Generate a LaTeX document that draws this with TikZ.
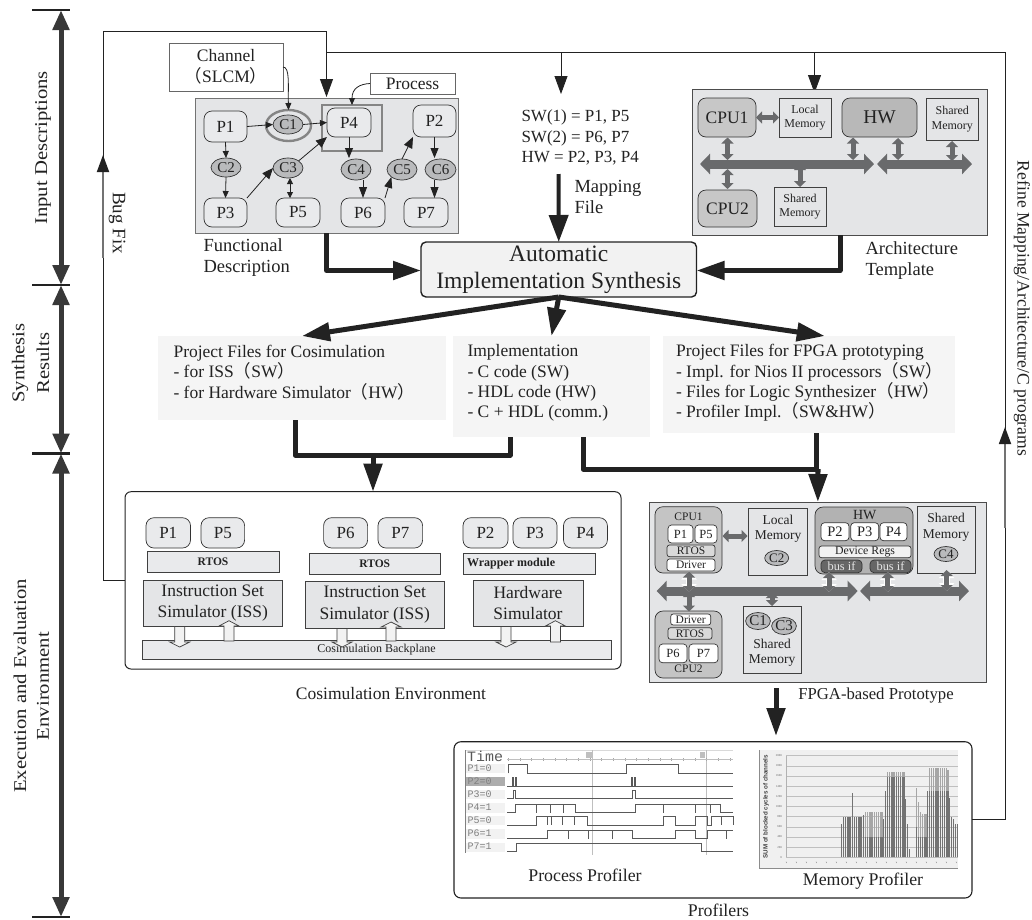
\documentclass[tikz,border=0pt]{standalone}
\usepackage{fontspec}
\usepackage{graphicx}
\setmainfont{Liberation Serif}
\setsansfont{Liberation Sans}
\setmonofont{Liberation Mono}
\newfontfamily\cjk{Noto Sans CJK SC}
\usetikzlibrary{arrows.meta,shapes.geometric,calc}
\definecolor{ink}{HTML}{222222}
\definecolor{panel}{HTML}{E4E5E7}
\definecolor{chipfill}{HTML}{E9EAEC}
\definecolor{cg}{HTML}{B9BABC}
\definecolor{busg}{HTML}{696A6C}
\definecolor{softb}{HTML}{F5F5F5}
\newcommand\fs[2]{\fontsize{#1}{#2}\selectfont}
\newcommand\lp{{\cjk（}}
\newcommand\rp{{\cjk）}}
\newcommand\nbx[7]{%
  \pgfmathsetmacro\cxx{(#3+#5)/2}\pgfmathsetmacro\cyy{(#4+#6)/2}%
  \pgfmathsetmacro\ww{#5-#3}\pgfmathsetmacro\hhh{#6-#4}%
  \node[#1,minimum width=\ww pt,minimum height=\hhh pt,inner sep=0pt,outer sep=0pt,align=center] (#2) at (\cxx,\cyy) {#7};}
\newcommand\holl[4]{\draw[hollow] (#1-5,#2) -- (#1-5,#3) -- (#1-10,#3) -- (#1,#4) -- (#1+10,#3) -- (#1+5,#3) -- (#1+5,#2) -- cycle;}
\tikzset{
  every node/.style={text=ink},
  panelbox/.style={draw=black!55,line width=0.9pt,fill=panel},
  chip/.style={draw=black!80,line width=0.7pt,rounded corners=8pt,fill=white,font=\fs{17}{20}},
  chipg/.style={chip,fill=chipfill},
  chan/.style={ellipse,draw=black!80,line width=0.7pt,fill=cg,font=\fs{15}{18}},
  plainb/.style={draw=black!75,line width=0.7pt,fill=#1},
  plainb/.default=panel,
  softbox/.style={fill=softb},
  lbl/.style={font=\fs{18.5}{21},align=left},
  thinl/.style={draw=ink,line width=0.8pt},
  tinya/.style={draw=ink,line width=0.8pt,-{Triangle[length=7pt,width=6pt]}},
  tinyb/.style={draw=ink,line width=0.8pt,{Triangle[length=6pt,width=6pt]}-{Triangle[length=6pt,width=6pt]}},
  drop/.style={draw=ink,line width=0.8pt,-{Triangle[length=18pt,width=13pt]}},
  heavy/.style={draw=ink,line width=5pt,line join=round},
  heavya/.style={heavy,-{Triangle[length=28pt,width=18pt]}},
  scalebar/.style={draw=ink!90,line width=5pt,{Triangle[length=20pt,width=16pt]}-{Triangle[length=20pt,width=16pt]}},
  tickm/.style={draw=ink,line width=2.4pt},
  rise/.style={draw=black!55,line width=1.8pt,-{Triangle[length=17pt,width=12pt,color=ink]}},
  busbar/.style={draw=busg,line width=9pt,{Triangle[length=10pt,width=20pt]}-{Triangle[length=10pt,width=20pt]}},
  stub/.style={draw=busg,line width=5pt,{Triangle[length=6pt,width=12pt]}-{Triangle[length=6pt,width=12pt]}},
  halo/.style={draw=white,line width=6.5pt,{Triangle[length=8pt,width=15pt]}-{Triangle[length=8pt,width=15pt]}},
  hollow/.style={draw=black!75,line width=0.7pt,fill=white!95!black},
  wavel/.style={draw=black!65,line width=0.9pt},
  gridl/.style={draw=black!25,line width=0.5pt},
  sidet/.style={font=\fs{18}{21},rotate=90,align=center},
}
\begin{document}
\begin{tikzpicture}[x=1pt,y=-1pt]
\useasboundingbox (0,0) rectangle (1032,919);
\fill[white] (0,0) rectangle (1032,919);

% ---------- left scale
\coordinate (t0) at (61,10);\coordinate (t1) at (61,285);\coordinate (t2) at (61,453.5);\coordinate (t3) at (61,917);
\foreach \tk in {t0,t1,t2,t3}{\draw[tickm] ($(\tk)+(-29,0)$) -- ($(\tk)+(9,0)$);}
\draw[scalebar] (t0) -- (t1);
\draw[scalebar] (t1) -- (t2);
\draw[scalebar] (t2) -- (t3);
\node[sidet] (sInput) at (43,148) {\scalebox{1.15}[1]{Input Descriptions}};
\node[sidet] (sSynA) at (20,363) {\scalebox{1.15}[1]{Synthesis}};
\node[sidet] (sSynB) at (43,363) {\scalebox{1.15}[1]{Results}};
\node[sidet] (sExeA) at (20,686) {\scalebox{1.15}[1]{Execution and Evaluation}};
\node[sidet] (sExeB) at (43,686) {\scalebox{1.15}[1]{Environment}};

% ---------- functional description
\nbx{panelbox}{func}{195}{98}{458}{233}{}
\nbx{draw=black!48,line width=2.6pt}{sq}{322}{105}{382}{151}{}
\nbx{chipg}{fP1}{204}{111}{247}{142}{P1}
\nbx{chipg}{fP4}{327}{108}{371}{137}{P4}
\nbx{chipg}{fP2}{413}{105}{456}{137}{P2}
\nbx{chipg}{fP3}{204}{198}{247}{227}{P3}
\nbx{chipg}{fP5}{276}{198}{320}{227}{P5}
\nbx{chipg}{fP6}{341}{198}{385}{227}{P6}
\nbx{chipg}{fP7}{404}{198}{448}{227}{P7}
\nbx{ellipse,draw=black!48,line width=2.4pt}{C1o}{266}{110}{311}{141}{}
\nbx{chan}{fC1}{273}{115}{303}{134}{C1}
\nbx{chan}{fC2}{211}{158}{241}{177}{C2}
\nbx{chan}{fC3}{273}{158}{303}{178}{C3}
\nbx{chan}{fC4}{341}{159}{371}{180}{C4}
\nbx{chan}{fC5}{387}{159}{417}{180}{C5}
\nbx{chan}{fC6}{425}{159}{456}{180}{C6}
\draw[tinya] (fP1.east) -- (fC1.west);
\draw[tinya] (fC1.east) -- (fP4.west);
\draw[tinya] (fP1.south) -- (fC2.north);
\draw[tinya] (fC2.south) -- (fP3.north);
\draw[tinya,-{Triangle[length=11pt,width=9pt]}] (fP3.north east) -- (fC3.west);
\draw[tinya,-{Triangle[length=11pt,width=9pt]}] (fC3.north east) -- (fP4.south west);
\draw[tinyb] ($(fC3.south)+(2,0)$) -- ($(fC3.south |- fP5.north)+(2,0)$);
\draw[tinya,-{Triangle[length=10pt,width=8pt]}] (fP4.south) -- ($(fP4.south |- fC4.north)+(0,-1)$);
\draw[tinya,-{Triangle[length=11pt,width=8pt]}] (fP6.north |- fC4.south) -- (fP6.north);
\draw[tinya,-{Triangle[length=11pt,width=8pt]}] (fP6.north east) -- (fC5.south west);
\draw[tinya,-{Triangle[length=11pt,width=9pt]}] (fC5.north) -- (fP2.south west);
\draw[tinya,-{Triangle[length=10pt,width=8pt]}] (fP2.south) -- ($(fP2.south |- fC6.north)+(0,-1)$);
\draw[tinya,-{Triangle[length=11pt,width=8pt]}] (fP2.south |- fC6.south) -- ($(fP2.south |- fP7.north)$);
\nbx{draw=black!60,line width=0.9pt,fill=white,font=\fs{17.5}{21}}{chanb}{169}{43}{283}{91}{Channel\\\lp SLCM\rp}
\nbx{draw=black!60,line width=0.9pt,fill=white,font=\fs{17.5}{21}}{procb}{370}{73}{455}{94}{Process}
\draw[tinya] (chanb.east) .. controls (290,67) and (288,85) .. (C1o.north);
\draw[tinya] (procb.west) .. controls (360,84) and (352,88) .. (sq.north);
\node[lbl,anchor=west] (funcl) at (200,257.5) {Functional\\Description};

% ---------- feedback lines
\coordinate (bugA) at (125,580);
\coordinate (funcIn) at (326.5,97);
\coordinate (bugC) at (326.5,31.5);
\coordinate (topL) at (326.5,52);
\coordinate (topR) at (1005,52);
\coordinate (mapIn) at (561,94);
\coordinate (archIn) at (814.5,93);
\draw[thinl] (bugA) -- (103,580) -- (103,31.5) -- (bugC);
\draw[drop] (bugC) -- (funcIn);
\draw[rise] (103,258) -- (103,155);
\node[font=\fs{19}{21},rotate=-90] (bugl) at (117,223) {Bug Fix};
\draw[drop] (mapIn |- topL) -- (mapIn);
\draw[drop] (archIn |- topL) -- (archIn);

% ---------- mapping file
\node[font=\fs{17}{20.5},align=left,anchor=west] (maptxt) at (518,137.5) {SW(1) = P1, P5\\SW(2) = P6, P7\\HW = P2, P3, P4};
\node[lbl,anchor=west] (mapl) at (571,196.5) {Mapping\\File};

% ---------- architecture template
\nbx{draw=black!70,line width=0.9pt,fill=panel}{arch}{692}{89.5}{987}{235}{}
\nbx{chip,fill=black!22,font=\fs{17.5}{20}}{aCPU1}{698}{98}{756}{137}{CPU1}
\nbx{chip,fill=black!22,font=\fs{17.5}{20}}{aCPU2}{698}{190}{757}{227}{CPU2}
\nbx{chip,fill=black!28,font=\fs{19.5}{20}}{aHW}{842}{98}{917}{137}{HW}
\nbx{plainb,font=\fs{12}{14.5}}{aLM}{779}{98}{831}{137}{Local\\Memory}
\nbx{plainb,font=\fs{12}{14.5}}{aSM1}{926.5}{98}{978}{140}{Shared\\Memory}
\nbx{plainb,font=\fs{12}{14.5}}{aSM2}{774}{187}{826}{226}{Shared\\Memory}
\coordinate (bA1) at (700,164);\coordinate (bA2) at (874,164);\coordinate (bA3) at (877,164);\coordinate (bA4) at (972,164);
\draw[busbar] (bA1) -- (bA2);
\draw[busbar] (bA3) -- (bA4);
\draw[stub] (aCPU1.east) -- (aLM.west);
\draw[stub] (727.5,137.5) -- (727.5,160);
\draw[stub] (853,137.5) -- (853,160);
\draw[stub] (898,138) -- (898,160);
\draw[stub] (952,141) -- (952,161);
\draw[stub] (727.5,169) -- (727.5,189);
\draw[stub] (800,164) -- (aSM2.north);
\node[lbl,anchor=west] (archl) at (862,261) {Architecture\\Template};

% ---------- synthesis
\nbx{draw=ink,line width=1.4pt,rounded corners=5pt,fill=white!95!black,font=\fs{23.5}{27}}{auto}{421}{242}{696.5}{297}{Automatic\\Implementation Synthesis}
\coordinate (aW) at (421,270.5);
\coordinate (aE) at (696.5,270.5);
\draw[heavya] (func.south) -- (326.5,270.5) -- (aW);
\draw[heavya] (840,235) -- (840,270.5) -- (aE);
\draw[heavy,line width=4pt,-{Triangle[length=27pt,width=19pt]}] (558.5,174) -- (auto.north);

% ---------- results
\nbx{softbox}{pfc}{158}{336}{446}{420}{}
\nbx{softbox}{impl}{453}{336}{650}{437}{}
\nbx{softbox}{pff}{662.5}{336}{955}{433}{}
\draw[heavya] (auto.south) -- (pfc.north);
\draw[heavya] (auto.south) -- (impl.north);
\draw[heavya] (auto.south) -- ($(pff.north)+(16,0)$);
\node[font=\fs{17.5}{20.4},align=left,anchor=west] (pfct) at (170,372.5) {Project Files for Cosimulation\\- for ISS\lp SW\rp\\- for Hardware Simulator\lp HW\rp};
\node[font=\fs{17.5}{20.4},align=left,anchor=west] (implt) at (464,383) {Implementation\\- C code (SW)\\- HDL code (HW)\\- C + HDL (comm.)};
\node[font=\fs{17.5}{20.4},align=left,anchor=west] (pfft) at (672.5,383) {Project Files for FPGA prototyping\\- Impl. for Nios II processors\lp SW\rp\\- Files for Logic Synthesizer\lp HW\rp\\- Profiler Impl.\lp SW\&HW\rp};

% ---------- cosimulation
\nbx{draw=ink,line width=1pt,rounded corners=6pt,fill=white}{cosim}{125}{491.7}{621}{669}{}
\node[font=\fs{17.5}{20}] (cosl) at (391,693) {Cosimulation Environment};
\coordinate (j1) at (373,455);
\coordinate (j2) at (818,469);
\draw[heavy] (295,420) -- (295,455) -- (510,455) -- (510,437);
\draw[heavya] (j1) -- (cosim.north);
\nbx{chipg}{cP1}{146}{517.7}{190.5}{548}{P1}
\nbx{chipg}{cP5}{201}{517.7}{244.6}{548}{P5}
\nbx{chipg}{cP6}{323.6}{517.7}{367.6}{548}{P6}
\nbx{chipg}{cP7}{378}{517.7}{422.6}{548}{P7}
\nbx{chipg}{cP2}{463}{517.7}{508}{548}{P2}
\nbx{chipg}{cP3}{513}{517.7}{557}{548}{P3}
\nbx{chipg}{cP4}{563.5}{517.7}{607.4}{548}{P4}
\nbx{plainb=chipfill,font=\bfseries\fs{11.5}{13}}{cR1}{147}{551.7}{279}{572}{RTOS}
\nbx{plainb=chipfill,font=\bfseries\fs{11.5}{13}}{cR2}{309}{553}{440.5}{574}{RTOS}
\nbx{plainb=chipfill,font=\bfseries\fs{12}{13}}{cW}{463}{553}{595}{574}{\makebox[124pt][l]{Wrapper module}}
\nbx{plainb,font=\fs{17.5}{21.5}}{cI1}{143}{580}{282.4}{626}{Instruction Set\\Simulator (ISS)}
\nbx{plainb,font=\fs{17.5}{21.5}}{cI2}{305}{581}{444.6}{628}{Instruction Set\\Simulator (ISS)}
\nbx{plainb,font=\fs{17.5}{21.5}}{cH}{473}{580}{583}{626}{Hardware\\Simulator}
\nbx{plainb=chipfill,font=\fs{12}{14}}{cB}{142}{640.7}{611}{659}{Cosimulation Backplane}
\holl{179.7}{626.5}{642}{647}
\holl{229}{641}{626}{620.7}
\holl{342}{628.5}{642}{647}
\holl{391}{641}{627}{622}
\holl{506}{626.5}{642}{647}
\holl{555.4}{642}{626}{620.7}

% ---------- FPGA
\nbx{draw=black!70,line width=0.9pt,fill=panel}{fb}{649}{502}{986.7}{682.7}{}
\draw[heavy] (583,437) -- (583,469) -- (j2);
\draw[heavy] (816,433) -- (816,469);
\draw[heavya] (j2) -- (fb.north);
\nbx{draw=black!80,line width=0.7pt,rounded corners=8pt,fill=black!23}{cp1}{655}{506.7}{722}{573}{}
\nbx{draw=black!80,line width=0.7pt,rounded corners=8pt,fill=black!23}{cp2}{655}{611}{722}{678}{}
\nbx{draw=black!80,line width=0.7pt,rounded corners=8pt,fill=black!30}{hwb}{815}{507}{913}{574}{}
\node[font=\fs{11.5}{13}] (cp1l) at (688.5,516.7) {CPU1};
\node[font=\fs{11.5}{13}] (cp2l) at (688.5,669) {CPU2};
\node[font=\fs{14}{15}] (hwbl) at (864.7,515) {HW};
\tikzset{mini/.style={chip,rounded corners=3.5pt,font=\fs{12.5}{14}},minib/.style={mini,font=\fs{14.5}{15}},miniw/.style={mini,rounded corners=2.5pt,font=\fs{11.5}{13}}}
\nbx{mini}{gP1}{668}{525}{693}{543}{P1}
\nbx{mini}{gP5}{695}{525}{717}{543}{P5}
\nbx{miniw,fill=black!15}{gR1}{667}{545}{715}{556.7}{RTOS}
\nbx{miniw}{gD1}{667}{559}{715}{571}{Driver}
\nbx{miniw}{gD2}{670.7}{614}{710.7}{625}{Driver}
\nbx{miniw,fill=black!15}{gR2}{668}{627.7}{712}{639.3}{RTOS}
\nbx{mini}{gP6}{659}{644}{687}{662.7}{P6}
\nbx{mini}{gP7}{689}{644}{718}{662.7}{P7}
\nbx{minib}{gP2}{821}{522.7}{849}{540.7}{P2}
\nbx{minib}{gP3}{850.7}{522.7}{878.7}{540.7}{P3}
\nbx{minib}{gP4}{880}{522.7}{907}{540.7}{P4}
\nbx{miniw,fill=black!5,font=\fs{11.8}{13}}{gDR}{819}{546}{911}{557.7}{Device Regs}
\nbx{miniw,fill=black!60,rounded corners=4pt,text=white!90!black,font=\fs{12.4}{13}}{gB1}{821}{560}{862}{572.7}{bus if}
\nbx{miniw,fill=black!60,rounded corners=4pt,text=white!90!black,font=\fs{12.4}{13}}{gB2}{870}{560}{911}{572.7}{bus if}
\nbx{plainb}{gLM}{748}{508}{807}{575}{}
\nbx{plainb}{gSM1}{917}{506.7}{975.7}{573}{}
\nbx{plainb}{gSM2}{743}{606}{801.7}{673}{}
\node[font=\fs{13.5}{15.5},align=center] (gLMl) at (778,529) {Local\\Memory};
\node[font=\fs{13.5}{15.5},align=center] (gSM1l) at (946,527.5) {Shared\\Memory};
\node[font=\fs{13.5}{15.5},align=center] (gSM2l) at (772,653) {Shared\\Memory};
\nbx{chan,font=\fs{13}{14}}{gC2}{764.7}{550.5}{788.7}{565.5}{C2}
\nbx{chan,font=\fs{13}{14}}{gC4}{934}{546.5}{958}{561.5}{C4}
\nbx{chan,font=\fs{15}{16}}{gC1}{746.5}{612.5}{769.5}{629.5}{C1}
\nbx{chan,font=\fs{15}{16}}{gC3}{772.5}{617.5}{795.5}{634.5}{C3}
\coordinate (bF1) at (656.7,591);\coordinate (bF2) at (857.7,591);\coordinate (bF3) at (860,591);\coordinate (bF4) at (969,591);
\draw[busg,line width=9pt,{Triangle[length=10pt,width=20pt]}-{Triangle[length=10pt,width=20pt]}] (bF1) -- (bF2);
\draw[busg,line width=9pt,{Triangle[length=10pt,width=20pt]}-{Triangle[length=10pt,width=20pt]}] (bF3) -- (bF4);
\foreach \sx/\sa/\sb in {689/571.5/592,829/572/592,887.7/572/592,946.7/570/591}{
  \draw[halo] (\sx,\sa) -- (\sx,\sb);
  \draw[stub] (\sx,\sa) -- (\sx,\sb);}
\draw[stub] (689,591) -- (689,611.5);
\draw[stub] (772,592) -- (772,606);
\draw[stub] (722.5,536) -- (747.5,536);
\node[font=\fs{16.7}{20}] (fpgal) at (876,695) {FPGA-based Prototype};
\coordinate (fbOut) at (776,688);
\coordinate (profIn) at (776,736);

% ---------- profilers
\nbx{draw=ink,line width=1.1pt,rounded corners=7pt,fill=white}{prof}{454}{741.7}{972}{898}{}
\draw[heavya] (fbOut) -- (profIn);
\draw[thinl] (prof.east) -| (topR) -- (topL);
\draw[rise] (1005,528) -- (1005,427);
\node[font=\fs{17.6}{20},rotate=-90] (refl) at (1022,308.5) {Refine Mapping/Architecture/C programs};
\node[font=\fs{17.8}{20}] (pl1) at (585,875.7) {Process Profiler};
\node[font=\fs{17.8}{20}] (pl2) at (863,880.7) {Memory Profiler};
\node[font=\fs{17.8}{20}] (pl3) at (718.5,910) {Profilers};

% process profiler (wave view)
\begin{scope}[shift={(455,745)},x=0.3333pt,y=-0.3333pt]
  \draw[black!15,line width=0.6pt] (32,15) -- (835,15);
  \draw[black!50,line width=0.8pt] (30,15) -- (30,325);
  \foreach \rw/\ra/\rb in {P1/56/85,P2/96/122,P3/135/161,P4/175/203,P5/214/241,P6/253/281,P7/293/320}{\fill[black!5] (32,\ra) rectangle (150,\rb);}
  \fill[black!32] (32,96) rectangle (150,122);
  \draw[black!25,line width=0.8pt] (412,15) -- (412,330);
  \draw[black!25,line width=0.8pt] (755,15) -- (755,330);
  \foreach \tx in {0,...,19}{\draw[black!35,line width=0.5pt] ({160+35*\tx},40) -- ({160+35*\tx},48);}
  \draw[black!25,line width=0.4pt] (157,42) -- (835,42);
  \fill[black!25] (394,20) rectangle (410,40);
  \fill[black!25] (734,20) rectangle (750,40);
  \node[font=\ttfamily\fs{13}{14},text=black!65,anchor=west,inner sep=0pt] (wT) at (36,33) {\scalebox{1.15}[1.1]{Time}};
  \foreach \nm/\ny/\nl in {P1=0/71/a,P2=0/109/b,P3=0/148/c,P4=1/187/d,P5=0/226/e,P6=1/266/f,P7=1/305/g}{
    \node[font=\ttfamily\fs{10}{11},text=black!50,anchor=west,inner sep=0pt] (wn\nl) at (37,\ny) {\nm};}
  \draw[wavel] (160,85)--(160,58)--(217,58)--(217,85)--(513,85)--(513,58)--(670,58)--(670,85)--(835,85);
  \draw[wavel] (157,123)--(172,123)--(172,97)--(175,97)--(175,123)--(181,123)--(181,97)--(185,97)--(185,123)--(528,123)--(528,97)--(531,97)--(531,123)--(538,123)--(538,97)--(542,97)--(542,123)--(835,123);
  \draw[wavel] (157,161)--(175,161)--(175,135)--(182,135)--(182,161)--(532,161)--(532,135)--(540,135)--(540,161)--(835,161);
  \draw[wavel] (157,203)--(182,203)--(182,177)--(362,177)--(362,203)--(542,203)--(542,177)--(797,177)--(797,203)--(835,203);
  \foreach \q in {244,285,325,360,625,720,767}{\draw[wavel] (\q,177)--(\q,203);}
  \draw[wavel] (157,241)--(245,241)--(245,215)--(397,215)--(397,241)--(625,241)--(625,215)--(662,215)--(662,241)--(720,241)--(720,215)--(757,215)--(757,241)--(768,241)--(768,215)--(835,215)--(835,241);
  \foreach \q in {278,288,322,357,800}{\draw[wavel] (\q,215)--(\q,241);}
  \draw[wavel] (157,281)--(278,281)--(278,255)--(532,255)--(532,281)--(662,281)--(662,255)--(720,255)--(720,281)--(757,281)--(757,255)--(835,255);
  \foreach \q in {340,400,472,815}{\draw[wavel] (\q,255)--(\q,281);}
  \draw[wavel] (157,320)--(185,320)--(185,295)--(740,295)--(740,320)--(835,320);
\end{scope}

% memory profiler (bar chart)
\begin{scope}[shift={(750,745)},x=0.3333pt,y=-0.3333pt]
  \fill[black!6] (28,15) rectangle (625,370);
  \draw[black!45,line width=0.7pt] (28,15) -- (28,370) -- (625,370);
  \foreach \gv in {0,200,...,2000}{
    \pgfmathsetmacro\gy{337-0.1525*\gv}
    \draw[gridl] (108,\gy) -- (625,\gy);
    \node[font=\fs{3}{3},text=black!60,anchor=east,inner sep=0pt] (tl\gv) at (96,\gy) {\gv};}
  \draw[black!30,line width=0.5pt] (108,32) -- (108,337);
  \foreach \xm in {0,...,17}{\draw[black!45,line width=0.5pt] ({110+30*\xm},354) -- ({108+30*\xm},350);}
  \node[font=\sffamily\bfseries\fs{6.2}{7},text=black!75,rotate=90,inner sep=0pt] (yl) at (48,185) {SUM of blocked cycles of channels};
  \foreach \nA/\nB/\vH/\vD in {0/0/650/650,1/5/800/800,6/6/1260/1260,7/11/790/790,12/12/840/840,13/22/890/400,23/23/750/750,24/24/1300/1300,25/34/1680/1580,35/35/1150/1150,36/36/650/650,37/37/170/170,41/41/1370/600,42/42/1080/400,43/43/900/400,44/46/860/400,47/47/1300/1300,48/57/1750/1310,58/58/1720/1310,59/59/1170/1170,60/60/790/790,61/61/750/750,62/63/650/650}{
    \foreach \n in {\nA,...,\nB}{
      \pgfmathsetmacro\X{275+5.5*\n}
      \pgfmathsetmacro\Yt{337-0.1525*\vH}
      \pgfmathsetmacro\Yd{337-0.1525*\vD}
      \draw[black!35,line width=1.2pt] (\X,337) -- (\X,\Yt);
      \draw[black!55,line width=1.2pt] (\X,337) -- (\X,\Yd);
    }}
\end{scope}
\end{tikzpicture}
\end{document}
